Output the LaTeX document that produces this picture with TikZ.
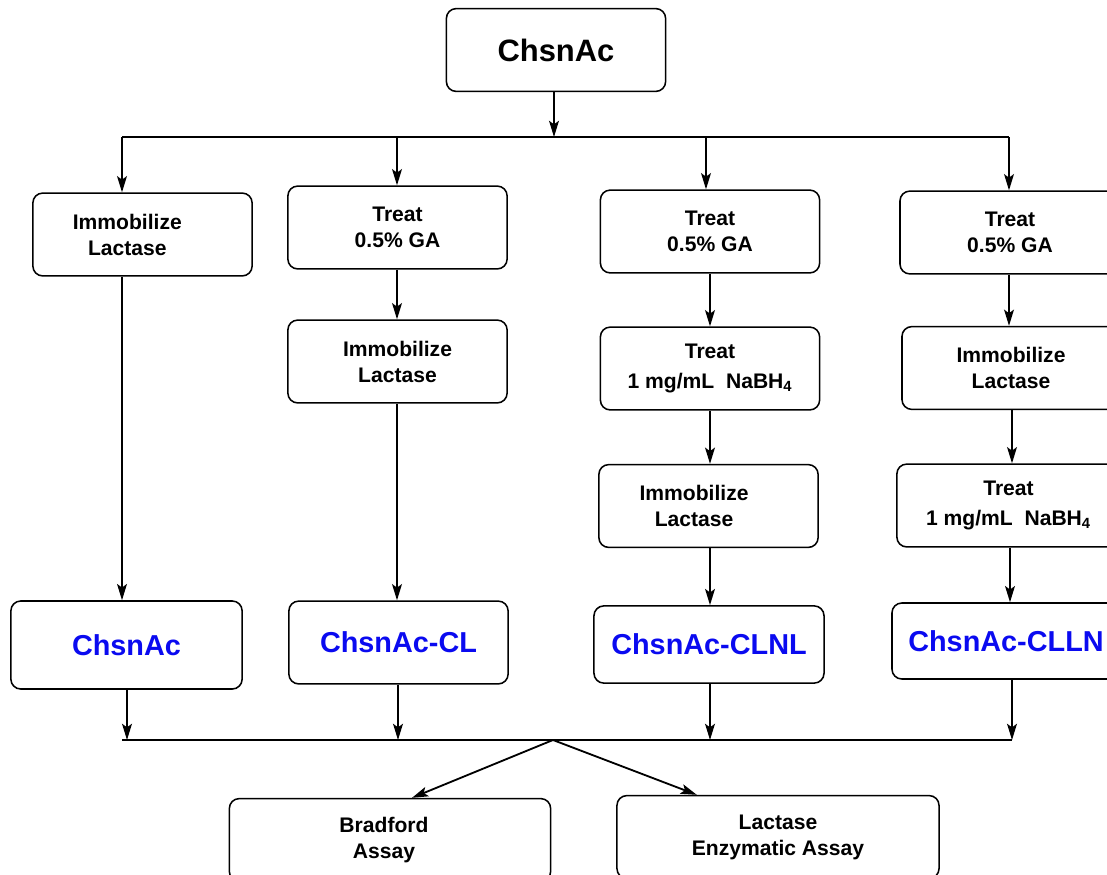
\documentclass[tikz,border=0pt]{standalone}
\usepackage{fontspec}
\setmainfont{Liberation Sans}
\usetikzlibrary{arrows.meta}
\definecolor{sampleblue}{RGB}{10,10,240}

\begin{document}
\begin{tikzpicture}[x=0.025cm,y=-0.025cm,line width=1.3pt,->,>={Stealth[length=11.5pt,width=7pt,inset=2.5pt]}]
  \tikzstyle{txt}=[align=center,inner sep=0pt,font=\bfseries\fontsize{15}{18.5}\selectfont]
  \tikzstyle{box}=[txt,draw,line width=1.1pt,rounded corners=7pt,minimum width=5.48cm,minimum height=2.07cm]
  \tikzstyle{sample}=[box,text=sampleblue,font=\bfseries\fontsize{20.5}{24}\selectfont]
  \path[use as bounding box,clip] (0,0) rectangle (1107,875);

  \node[box,font=\bfseries\fontsize{22}{26}\selectfont] (top) at (556,50) {ChsnAc};

  \node[box,label={[txt,xshift=-0.38cm]center:{Immobilize\\Lactase}}] (A_1) at (142.5,234.5) {};
  \node[sample,minimum width=5.78cm,minimum height=2.2cm] (P_1) at (126.5,645) {ChsnAc};

  \node[box] (B_1) at (397.5,227.5) {Treat\\0.5\% GA};
  \node[box] (B_2) at (397.5,361.5) {Immobilize\\Lactase};
  \node[sample] (P_2) at (398.5,642.5) {ChsnAc-CL};

  \node[box] (C_1) at (710,231.5) {Treat\\0.5\% GA};
  \node[box,font=\bfseries\fontsize{15}{21}\selectfont] (C_2) at (710,368.5) {Treat\\1 mg/mL~~NaBH\textsubscript{4}};
  \node[box,label={[txt,xshift=-0.36cm]center:{Immobilize\\Lactase}}] (C_3) at (708.5,506) {};
  \node[sample,minimum width=5.75cm,minimum height=1.93cm] (P_3) at (709,644.5) {ChsnAc-CLNL};

  \node[box,minimum width=5.5cm] (D_1) at (1010,232.5) {Treat\\0.5\% GA};
  \node[box,minimum width=5.45cm] (D_2) at (1011,368) {Immobilize\\Lactase};
  \node[box,minimum width=5.58cm,font=\bfseries\fontsize{15}{21}\selectfont] (D_3) at (1008.5,505.5) {Treat\\1 mg/mL~~NaBH\textsubscript{4}};
  \node[sample,minimum width=5.7cm,minimum height=1.9cm] (P_4) at (1006,641) {ChsnAc-CLLN};

  \node[box,minimum width=8.03cm,label={[txt,xshift=-0.15cm]center:{Bradford\\Assay}}] (Q_1) at (390,840) {};
  \node[box,minimum width=8.05cm] (Q_2) at (778,837) {Lactase\\Enzymatic Assay};

  \coordinate (T_0) at (554,137);
  \coordinate (T_1) at (122,137);
  \coordinate (T_2) at (397,137);
  \coordinate (T_3) at (706,137);
  \coordinate (T_4) at (1009,137);
  \coordinate (M_0) at (553,740);
  \coordinate (M_1) at (122,740);
  \coordinate (M_2) at (398,740);
  \coordinate (M_3) at (710,740);
  \coordinate (M_4) at (1012,740);

  \draw (top.south -| T_0) -- (T_0);
  \draw[-] (T_1) -- (T_4);
  \draw (T_1) -- (T_1 |- A_1.north);
  \draw (T_2) -- (T_2 |- B_1.north);
  \draw (T_3) -- (T_3 |- C_1.north);
  \draw (T_4) -- (T_4 |- D_1.north);

  \draw (A_1.south -| T_1) -- (P_1.north -| T_1);
  \draw (B_1.south -| T_2) -- (B_2.north -| T_2);
  \draw (B_2.south -| T_2) -- (P_2.north -| T_2);
  \draw (C_1.south -| M_3) -- (C_2.north -| M_3);
  \draw (C_2.south -| M_3) -- (C_3.north -| M_3);
  \draw (C_3.south -| M_3) -- (P_3.north -| M_3);
  \draw (D_1.south -| T_4) -- (D_2.north -| T_4);
  \draw (D_2.south -| M_4) -- (D_3.north -| M_4);
  \draw (D_3.south -| 1010,0) -- (P_4.north -| 1010,0);

  \draw (P_1.south -| 127,0) -- (M_1 -| 127,0);
  \draw (P_2.south -| M_2) -- (M_2);
  \draw (P_3.south -| M_3) -- (M_3);
  \draw (P_4.south -| M_4) -- (M_4);
  \draw[-] (M_1) -- (M_4);
  \draw (M_0) -- ([xshift=0.55cm]Q_1.north);
  \draw (M_0) -- ([xshift=-2.03cm]Q_2.north);
\end{tikzpicture}
\end{document}
